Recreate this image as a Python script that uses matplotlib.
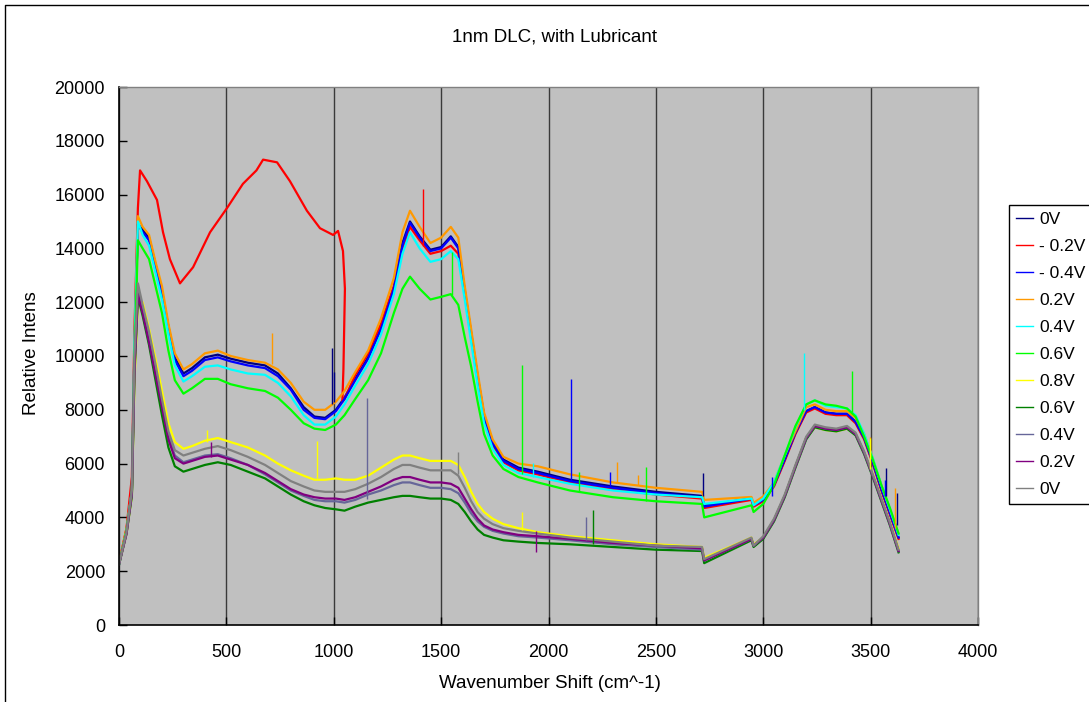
import numpy as np
import matplotlib
matplotlib.use("Agg")
import matplotlib.pyplot as plt
from matplotlib.lines import Line2D

plt.rcParams['font.family'] = ['Liberation Sans', 'DejaVu Sans']

# wavenumber grid shared by all spectra (cm^-1); no data between 2725 and 2945
wn = [0, 35, 60, 72, 88, 110, 140, 170, 200, 230, 260, 300, 340, 400, 460,
      520, 600, 680, 740, 800, 860, 910, 960, 1010, 1050, 1100, 1160, 1220,
      1280, 1320, 1355, 1400, 1450, 1500, 1545, 1580, 1610, 1640, 1670, 1700,
      1740, 1790, 1860, 1950, 2100, 2300, 2500, 2715, 2725, 2945, 2955, 3000,
      3050, 3100, 3150, 3200, 3240, 3290, 3340, 3390, 3430, 3470, 3510, 3550,
      3590, 3630]

v0_a = [2250, 3550, 5000, 10300, 14900, 14700, 14400, 13400, 12400, 11100,
        9950, 9350, 9550, 9950, 10050, 9900, 9750, 9650, 9350, 8800, 8100,
        7750, 7700, 8000, 8450, 9150, 9950, 11050, 12550, 14200, 15000, 14450,
        13950, 14050, 14450, 14050, 12450, 10850, 9250, 7800, 6800, 6150, 5850,
        5700, 5400, 5150, 4950, 4800, 4450, 4700, 4450, 4650, 5200, 6150, 7150,
        7950, 8100, 7900, 7850, 7850, 7550, 6950, 6050, 5050, 4150, 3250]

# -0.2V has its own x values: the trace folds back near 1040 cm^-1
wn_m02 = [0, 35, 60, 72, 88, 98, 130, 177, 205, 237, 284, 345, 424, 503, 577,
          640, 671, 736, 796, 875, 936, 997, 1020, 1043, 1052, 1045, 1040,
          1050, 1100, 1160, 1220, 1280, 1320, 1355, 1400, 1450, 1500, 1545,
          1580, 1610, 1640, 1670, 1700, 1740, 1790, 1860, 1950, 2100, 2300,
          2500, 2715, 2725, 2945, 2955, 3000, 3050, 3100, 3150, 3200, 3240,
          3290, 3340, 3390, 3430, 3470, 3510, 3550, 3590, 3630]
m02 = [2300, 3600, 5500, 11000, 15500, 16900, 16500, 15800, 14600, 13600,
       12700, 13300, 14600, 15500, 16400, 16900, 17300, 17200, 16500, 15400,
       14750, 14500, 14650, 13900, 12500, 9500, 8300, 8400, 9300, 10100, 11200,
       12600, 14000, 14800, 14300, 13800, 13900, 14100, 13800, 12300, 10700,
       9100, 7700, 6700, 6050, 5750, 5600, 5300, 5050, 4850, 4700, 4350, 4650,
       4400, 4600, 5150, 6100, 7100, 7900, 8050, 7850, 7800, 7800, 7500, 6900,
       6000, 5000, 4100, 3200]

m04 = [2250, 3500, 5000, 10300, 14900, 14600, 14300, 13300, 12300, 11000,
       9850, 9250, 9450, 9850, 9950, 9800, 9650, 9550, 9250, 8750, 8000, 7700,
       7650, 7950, 8400, 9100, 9900, 11000, 12500, 14100, 14950, 14400, 13900,
       14000, 14400, 14000, 12400, 10800, 9200, 7750, 6750, 6100, 5800, 5650,
       5350, 5100, 4900, 4750, 4400, 4700, 4450, 4650, 5200, 6150, 7150, 7950,
       8100, 7900, 7850, 7850, 7550, 6950, 6050, 5050, 4150, 3250]

p02_a = [2300, 3600, 5000, 10500, 15200, 14800, 14500, 13500, 12600, 11200,
         10100, 9500, 9700, 10100, 10200, 10000, 9850, 9750, 9500, 9000, 8300,
         8000, 8000, 8300, 8700, 9400, 10200, 11400, 12900, 14600, 15400,
         14800, 14200, 14400, 14800, 14400, 12600, 11000, 9400, 7900, 6900,
         6250, 6000, 5900, 5600, 5300, 5100, 4950, 4650, 4760, 4540, 4780,
         5300, 6300, 7200, 8100, 8200, 8000, 7950, 7950, 7700, 7100, 6200,
         5200, 4300, 3400]

p04_a = [2250, 3500, 5000, 10500, 15000, 14500, 14100, 13100, 12100, 10800,
         9650, 9050, 9250, 9600, 9650, 9500, 9350, 9300, 9000, 8500, 7800,
         7450, 7450, 7750, 8200, 8900, 9700, 10800, 12300, 13800, 14600, 14000,
         13500, 13600, 13900, 13600, 12100, 10500, 8900, 7500, 6550, 5950,
         5650, 5500, 5250, 5000, 4850, 4750, 4500, 4700, 4450, 4700, 5300,
         6300, 7350, 8200, 8350, 8150, 8100, 8050, 7800, 7100, 6200, 5200,
         4300, 3350]

p06_a = [2250, 3500, 4900, 9800, 14300, 14000, 13600, 12600, 11600, 10200,
         9100, 8600, 8800, 9150, 9150, 8950, 8800, 8700, 8450, 8000, 7500,
         7300, 7250, 7450, 7800, 8400, 9100, 10100, 11600, 12500, 12950, 12500,
         12100, 12200, 12300, 11900, 10700, 9600, 8300, 7100, 6300, 5800, 5500,
         5300, 5000, 4750, 4600, 4500, 4000, 4450, 4200, 4500, 5200, 6300,
         7400, 8200, 8350, 8200, 8150, 8050, 7750, 7000, 6150, 5200, 4350, 3400]

p08 = [2250, 3400, 4800, 9000, 12000, 12000, 11000, 9900, 8700, 7500, 6800,
       6550, 6650, 6850, 6950, 6800, 6600, 6300, 6000, 5750, 5550, 5400, 5400,
       5450, 5400, 5400, 5550, 5850, 6150, 6300, 6300, 6200, 6100, 6100, 6100,
       5950, 5500, 4950, 4500, 4200, 3950, 3750, 3600, 3450, 3300, 3150, 3000,
       2900, 2500, 3250, 3000, 3250, 3900, 4800, 5900, 6950, 7350, 7250, 7200,
       7300, 7100, 6400, 5600, 4700, 3800, 2850]

p06_b = [2250, 3400, 4800, 9300, 12200, 11500, 10400, 9100, 7800, 6600, 5900,
         5700, 5800, 5950, 6050, 5950, 5700, 5450, 5150, 4850, 4600, 4450,
         4350, 4300, 4250, 4400, 4550, 4650, 4750, 4800, 4800, 4750, 4700,
         4700, 4650, 4500, 4200, 3850, 3550, 3350, 3250, 3150, 3100, 3050,
         3000, 2900, 2800, 2750, 2300, 3150, 2900, 3200, 3850, 4750, 5850,
         6900, 7350, 7250, 7200, 7300, 7050, 6350, 5500, 4600, 3700, 2700]

p04_b = [2250, 3400, 4900, 9500, 12400, 11700, 10600, 9400, 8200, 7000, 6300,
         6050, 6150, 6300, 6350, 6200, 5950, 5600, 5300, 5000, 4800, 4650,
         4600, 4600, 4550, 4650, 4850, 5000, 5200, 5300, 5300, 5200, 5100,
         5100, 5050, 4900, 4550, 4150, 3850, 3650, 3500, 3400, 3300, 3250,
         3150, 3000, 2900, 2800, 2400, 3200, 2950, 3250, 3900, 4800, 5900,
         6950, 7400, 7300, 7250, 7350, 7100, 6400, 5550, 4650, 3750, 2750]

p02_b = [2250, 3400, 4900, 9500, 12300, 11600, 10500, 9300, 8100, 6900, 6200,
         6000, 6100, 6250, 6300, 6150, 5950, 5650, 5350, 5050, 4850, 4750,
         4700, 4700, 4650, 4750, 4950, 5150, 5400, 5500, 5500, 5400, 5300,
         5300, 5250, 5100, 4700, 4300, 3950, 3700, 3550, 3450, 3350, 3300,
         3200, 3050, 2950, 2850, 2400, 3200, 2950, 3250, 3900, 4800, 5900,
         6950, 7400, 7300, 7250, 7350, 7100, 6400, 5550, 4650, 3750, 2750]

v0_b = [2250, 3450, 5000, 10000, 12700, 11900, 10900, 9700, 8400, 7200, 6500,
        6300, 6400, 6550, 6650, 6500, 6250, 5950, 5650, 5350, 5150, 5000,
        4950, 4950, 4950, 5050, 5250, 5500, 5800, 5950, 5950, 5850, 5750,
        5750, 5750, 5550, 5100, 4600, 4200, 3950, 3750, 3600, 3500, 3400,
        3250, 3100, 2950, 2900, 2450, 3250, 2950, 3300, 3950, 4850, 5950,
        7000, 7450, 7350, 7300, 7400, 7150, 6450, 5600, 4700, 3800, 2800]

labels = ['0V', '- 0.2V', '- 0.4V', '0.2V', '0.4V', '0.6V', '0.8V', '0.6V',
          '0.4V', '0.2V', '0V']
colors = ['#000080', '#FF0000', '#0000FF', '#FF9900', '#00FFFF', '#00FF00',
          '#FFFF00', '#008000', '#666699', '#800080', '#808080']
series = [(wn, v0_a), (wn_m02, m02), (wn, m04), (wn, p02_a), (wn, p04_a),
          (wn, p06_a), (wn, p08), (wn, p06_b), (wn, p04_b), (wn, p02_b),
          (wn, v0_b)]

# cosmic-ray spikes: (series index, wavenumber, low, high)
spikes = [(0, 992, 8200, 10300), (0, 1003, 8300, 9400), (0, 2720, 4800, 5650),
          (0, 3571, 4800, 5840), (0, 3622, 3700, 4900),
          (1, 1417, 14100, 16200),
          (2, 2105, 5350, 9150), (2, 2286, 5150, 5690), (2, 3040, 4800, 5500),
          (2, 3568, 4800, 5400),
          (3, 712, 9700, 10850), (3, 2318, 5300, 6060), (3, 2415, 5200, 5580),
          (3, 3497, 6300, 6990), (3, 3613, 3600, 5090),
          (4, 3190, 8000, 10100), (4, 1928, 5500, 6020),
          (5, 1550, 12250, 13850), (5, 1877, 5600, 9650), (5, 2142, 5000, 5690),
          (5, 2454, 4600, 5870), (5, 3413, 7900, 9450),
          (6, 922, 5450, 6850), (6, 410, 6800, 7250), (6, 1877, 3550, 4200),
          (6, 3497, 5800, 6950),
          (7, 2207, 3000, 4270),
          (8, 1155, 4700, 8450), (8, 2175, 3150, 4010),
          (9, 428, 6250, 6800), (9, 1940, 2700, 3500),
          (10, 1578, 5600, 6430)]

fig = plt.figure(figsize=(10.89, 7.02), dpi=100)
ax = fig.add_axes([119 / 1089, 1 - 625 / 702, (978 - 119) / 1089, (625 - 87) / 702])
ax.set_facecolor('#C0C0C0')

for (x, y), c, lab in zip(series, colors, labels):
    ax.plot(x, y, color=c, lw=1.6, label=lab, solid_joinstyle='round')
for i, x, lo, hi in spikes:
    ax.vlines(x, lo, hi, color=colors[i], lw=1.0)

ax.set_xlim(0, 4000)
ax.set_ylim(0, 20000)
ax.set_xticks(np.arange(0, 4001, 500))
ax.set_yticks(np.arange(0, 20001, 2000))
ax.xaxis.grid(True, color='#3a3a3a', lw=1.0)
ax.set_axisbelow(True)
ax.tick_params(axis='both', direction='in', length=6, width=1, labelsize=13, colors='black')
ax.tick_params(axis='y', pad=10)
ax.tick_params(axis='x', pad=14)
for s in ['left', 'bottom']:
    ax.spines[s].set_color('black')
    ax.spines[s].set_linewidth(1.2)
for s in ['top', 'right']:
    ax.spines[s].set_color('#808080')
    ax.spines[s].set_linewidth(1.0)

fig.text(554 / 1089, 1 - 37 / 702, '1nm DLC, with Lubricant', ha='center', va='center', fontsize=13.5)
fig.text(550 / 1089, 1 - 683 / 702, 'Wavenumber Shift (cm^-1)', ha='center', va='center', fontsize=13.5)
fig.text(32 / 1089, 1 - 415 / 702, 'Relative Intens', ha='center', va='bottom', rotation=90, fontsize=13.5)

handles = [Line2D([], [], color=c, lw=1.0) for c in colors]
leg = fig.legend(handles, labels, loc='upper left',
                 bbox_to_anchor=(1009 / 1089, 1 - 205 / 702),
                 bbox_transform=fig.transFigure, borderaxespad=0,
                 fontsize=12.5, frameon=True, fancybox=False, framealpha=1,
                 edgecolor='black', handlelength=1.0, handletextpad=0.35,
                 labelspacing=0.68, borderpad=0.4)
leg.get_frame().set_linewidth(1.0)

# outer chart frame
fig.add_artist(Line2D([5 / 1089, 5 / 1089, 1.01], [-0.01, 1 - 5 / 702, 1 - 5 / 702],
                      transform=fig.transFigure, color='black', lw=1.0))

fig.savefig('out.png', dpi=100)
